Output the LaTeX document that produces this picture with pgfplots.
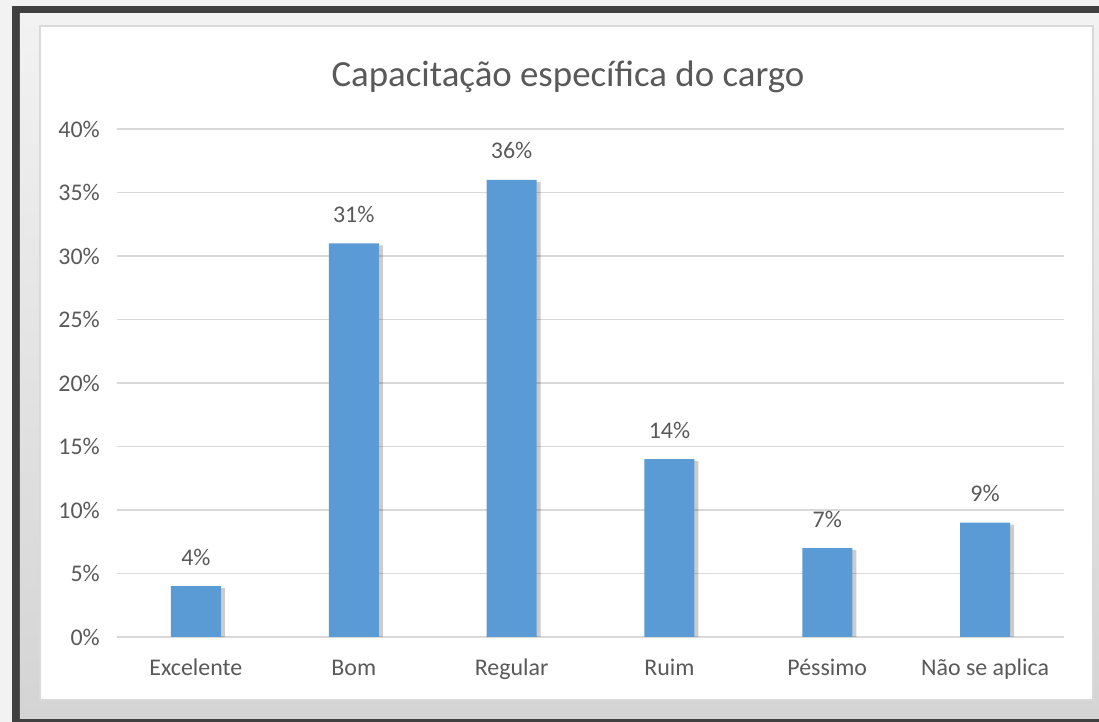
\documentclass[border=0pt]{standalone}
\usepackage{pgfplots}
\pgfplotsset{compat=1.18}
\usepackage{fontspec}
\setmainfont{Carlito}
\usetikzlibrary{shadows}
\definecolor{barblue}{HTML}{5B9BD5}
\definecolor{txt}{HTML}{595959}
\definecolor{gridc}{HTML}{D9D9D9}
\definecolor{frame}{HTML}{404040}
\definecolor{bgtop}{HTML}{F2F2F2}
\definecolor{bgbot}{HTML}{D4D4D4}
\begin{document}
\begin{tikzpicture}[x=1bp,y=1bp]
\useasboundingbox (-117,-85) rectangle (982,637);
\fill[bgtop] (-117,-85) rectangle (982,637);
\fill[frame] (-105,-85) rectangle (982,631);
\shade[top color=bgtop, bottom color=bgbot] (-97,-82) rectangle (982,623);
\filldraw[fill=white, draw=gridc, line width=1.5bp] (-77,-63) rectangle (976,611);
\node[text=txt, font=\fontsize{37}{40}\selectfont] at (451,560) {Capacitação específica do cargo};
\begin{axis}[
  at={(0,0)}, anchor=south west,
  scale only axis, width=947bp, height=508bp,
  xmin=-0.5, xmax=5.5, ymin=0, ymax=40,
  xtick=data,
  xticklabels={Excelente,Bom,Regular,Ruim,Péssimo,Não se aplica},
  ytick={0,5,...,40},
  yticklabels={0\%,5\%,10\%,15\%,20\%,25\%,30\%,35\%,40\%},
  /pgf/number format/assume math mode=true,
  axis line style={draw=none},
  major tick length=0pt,
  ymajorgrids,
  major grid style={gridc, line width=1.2bp},
  ticklabel style={text=txt, font=\fontsize{24}{27}\selectfont, inner sep=0pt},
  yticklabel style={anchor=east, xshift=-17bp},
  xticklabel style={anchor=base, yshift=-39bp},
  ybar, bar width=50bp,
  nodes near coords={\pgfmathprintnumber{\pgfplotspointmeta}\%},
  every node near coord/.append style={text=txt, font=\fontsize{24}{27}\selectfont, inner sep=0pt, anchor=base, yshift=21bp},
]
\addplot[fill=barblue, draw=none, drop shadow={shadow xshift=4bp, shadow yshift=-2bp, fill=black, opacity=0.2}]
  coordinates {(0,4) (1,31) (2,36) (3,14) (4,7) (5,9)};
\end{axis}
\end{tikzpicture}
\end{document}
